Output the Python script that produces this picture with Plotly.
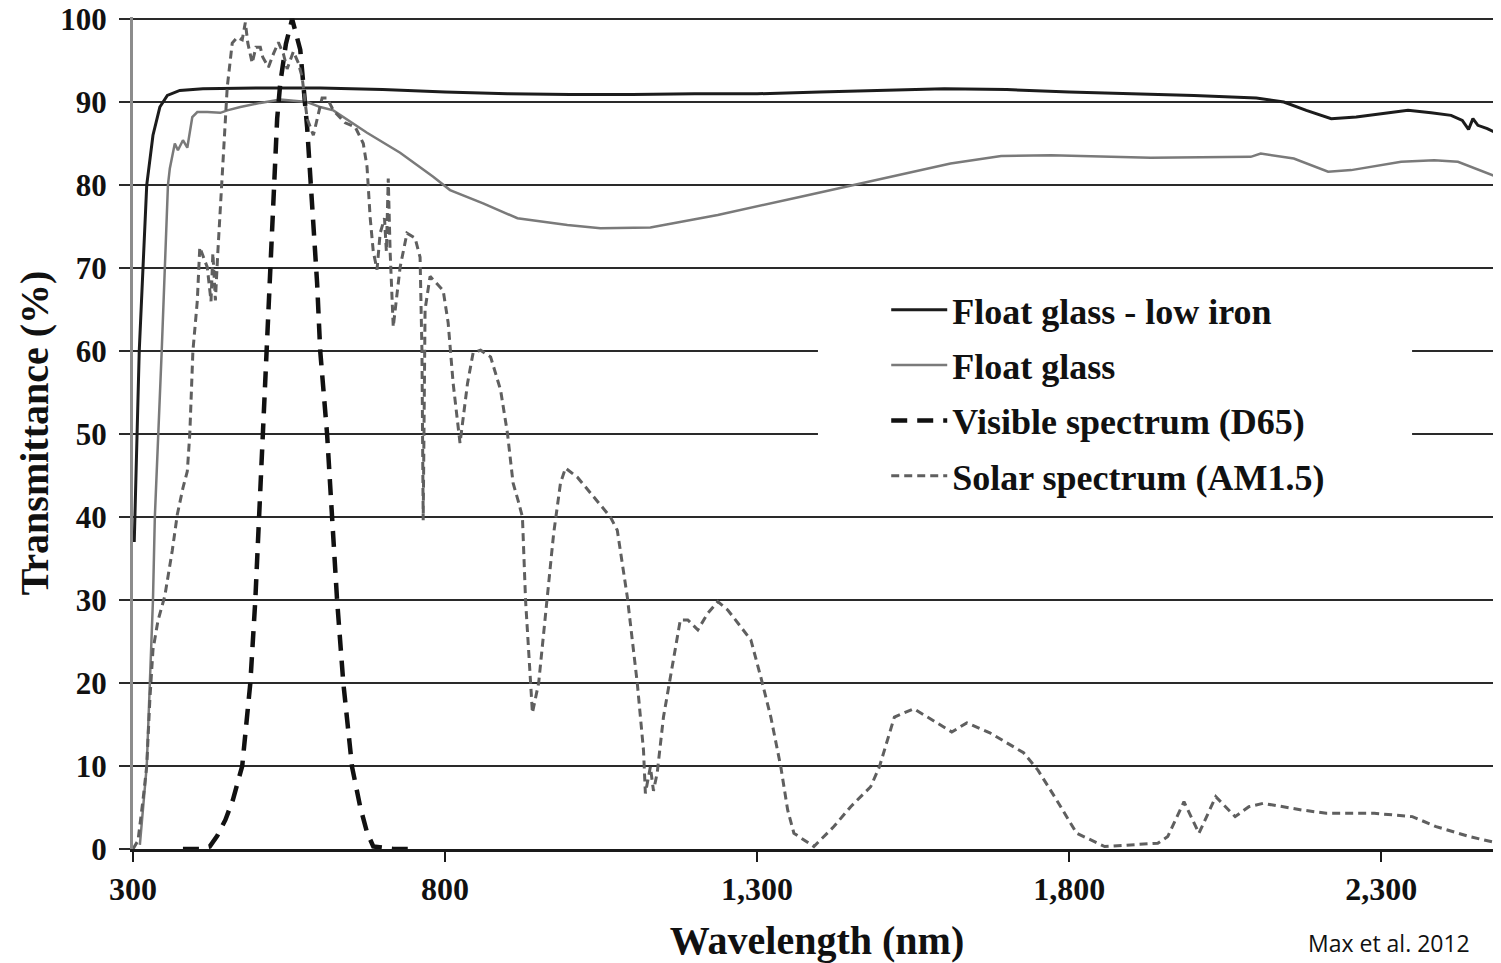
import plotly.graph_objects as go

# ---------------- data ----------------
LOW_IRON_NM = [302, 305, 310, 316, 322, 332, 343, 355, 375, 412, 500, 600, 700, 800, 900,
               1000, 1100, 1200, 1300, 1400, 1500, 1600, 1700, 1800, 1900, 2000, 2100, 2144,
               2180, 2220, 2260, 2300, 2343, 2380, 2412, 2430, 2440, 2447, 2455, 2470, 2492]
LOW_IRON_T = [37, 45, 60, 70, 80, 86, 89.4, 90.8, 91.4, 91.6, 91.7, 91.7, 91.5, 91.2, 91.0,
              90.9, 90.9, 91.0, 91.0, 91.2, 91.4, 91.6, 91.5, 91.2, 91.0, 90.8, 90.5, 90.0,
              89.0, 88.0, 88.2, 88.6, 89.0, 88.7, 88.4, 87.8, 86.7, 88.0, 87.2, 86.8, 86.0]

FLOAT_NM = [311, 322, 327, 332, 335, 341, 346, 351, 356, 359, 367, 372, 380, 387, 395, 403,
            419, 440, 451, 472, 504, 536, 579, 600, 621, 675, 728, 781, 808, 861, 916, 996,
            1049, 1129, 1237, 1370, 1482, 1610, 1691, 1771, 1931, 2091, 2107, 2160, 2215,
            2252, 2332, 2385, 2423, 2492]
FLOAT_T = [0.5, 10, 20, 30, 40, 50, 60, 70, 80, 82, 85, 84.2, 85.4, 84.5, 88.2, 88.8,
           88.8, 88.7, 89.0, 89.4, 89.9, 90.3, 90.0, 89.4, 89.0, 86.3, 83.9, 81.0, 79.4, 77.8,
           76.0, 75.2, 74.8, 74.9, 76.4, 78.6, 80.5, 82.6, 83.5, 83.6, 83.3, 83.4, 83.8, 83.2,
           81.6, 81.8, 82.8, 83.0, 82.8, 80.8]

D65_NM = [380, 407, 423, 435, 448, 460, 475, 488, 496, 502, 508, 515, 520, 525, 531, 536,
          545, 555, 568, 579, 587, 595, 600, 611, 619, 627, 637, 651, 664, 675, 685, 717, 749]
D65_T = [0, 0, 0.3, 1.6, 3.5, 5.9, 10, 20, 30, 40, 50, 60, 67, 77, 88, 92.3,
         97, 100, 96.3, 87, 78.2, 68.2, 60, 50, 40, 30, 20, 9.9, 5.1, 2, 0.3, 0, 0]

SOLAR_NM = [300, 308, 316, 322, 327, 332, 340, 351, 363, 371, 380, 387, 391, 396, 403, 407,
            419, 425, 428, 432, 436, 444, 451, 459, 467, 475, 480, 484, 491, 497, 504, 508,
            517, 525, 533, 541, 547, 557, 565, 571, 579, 589, 595, 603, 611, 621, 640, 656,
            669, 675, 680, 685, 691, 696, 703, 706, 709, 712, 717, 722, 728, 739, 752, 760,
            763, 765, 768, 776, 797, 805, 813, 824, 836, 845, 857, 873, 889, 900, 909, 917,
            924, 929, 937, 940, 950, 964, 974, 985, 993, 1012, 1033, 1065, 1076, 1092, 1108,
            1118, 1121, 1129, 1134, 1140, 1150, 1164, 1177, 1189, 1205, 1221, 1237, 1253,
            1274, 1290, 1306, 1322, 1338, 1349, 1359, 1391, 1423, 1450, 1482, 1496, 1520,
            1551, 1573, 1612, 1636, 1673, 1727, 1750, 1780, 1812, 1857, 1942, 1958, 1984,
            2008, 2035, 2066, 2088, 2111, 2173, 2212, 2289, 2350, 2388, 2441, 2488]
SOLAR_T = [0, 1, 5.9, 10, 18, 24, 27.5, 30.5, 36, 40.3, 43.5, 45.5, 50, 60, 66, 72.5,
           70.1, 66, 71.8, 66.1, 72, 82.2, 91.8, 97.1, 97.8, 97.5, 99.6, 97.1, 94.7, 96.6, 96.6, 95.4,
           94.2, 95.8, 97.2, 95.8, 94, 96.1, 94.7, 93, 88, 86, 88, 90.5, 90.5, 89, 87.5, 87,
           85, 82.2, 76.1, 72, 69.8, 74.2, 76, 72, 80.8, 72, 62.9, 66, 70.1, 74.2, 73.6, 71.3,
           60, 39.6, 65, 69, 67.3, 63.4, 56.1, 48.9, 56.1, 59.8, 60.1, 59.3, 55.3, 50.1, 44.1, 42,
           40, 30, 20, 16.4, 20, 30, 38, 44.1, 45.9, 44.8, 42.9, 40, 38.4, 30.4, 20,
           11.9, 6.7, 9.9, 7, 9.2, 15.9, 21.9, 27.6, 27.6, 26.4, 28.4, 29.8, 28.8,
           26.7, 25.2, 20.7, 15.9, 9.9, 4.7, 1.9, 0.3, 2.7, 5.1, 7.5, 9.9, 15.9,
           16.9, 15.9, 14.1, 15.2, 14.0, 11.6, 9.5, 5.9, 1.9, 0.3, 0.7, 1.5, 5.7,
           1.9, 6.3, 3.9, 5.1, 5.5, 4.7, 4.3, 4.3, 3.9, 2.7, 1.5, 0.7]

SERIES_NAMES = ["Float glass - low iron", "Float glass",
                "Visible spectrum (D65)", "Solar spectrum (AM1.5)"]

X_TICKVALS = [300, 800, 1300, 1800, 2300]
X_TICKTEXT = ["300", "800", "1,300", "1,800", "2,300"]
Y_TICKVALS = [0, 10, 20, 30, 40, 50, 60, 70, 80, 90, 100]

X_TITLE = "Wavelength (nm)"
Y_TITLE = "Transmittance (%)"
SOURCE = "Max et al. 2012"

# ---------------- figure ----------------
SERIF = "Liberation Serif, Times New Roman, serif"

fig = go.Figure()

fig.add_trace(go.Scatter(x=LOW_IRON_NM, y=LOW_IRON_T, mode="lines", name=SERIES_NAMES[0],
                         legendgroup="a", line=dict(color="#1c1c1c", width=3)))
fig.add_trace(go.Scatter(x=FLOAT_NM, y=FLOAT_T, mode="lines", name=SERIES_NAMES[1],
                         legendgroup="b", line=dict(color="#7a7a7a", width=2.5)))
fig.add_trace(go.Scatter(x=D65_NM, y=D65_T, mode="lines", name=SERIES_NAMES[2],
                         legendgroup="c", line=dict(color="#111111", width=4.5, dash="16px,10px")))
fig.add_trace(go.Scatter(x=SOLAR_NM, y=SOLAR_T, mode="lines", name=SERIES_NAMES[3],
                         legendgroup="d", line=dict(color="#5f5f5f", width=3, dash="8px,5px")))

# white box behind the legend (hides the gridlines there; no data lies in it)
fig.add_shape(type="rect", xref="paper", yref="paper",
              x0=0.5007, x1=0.935, y0=0.4145, y1=0.686,
              fillcolor="white", line=dict(width=0), layer="above")

fig.add_annotation(text=SOURCE, xref="paper", yref="paper", x=0.918, y=-0.113,
                   xanchor="center", yanchor="middle", showarrow=False,
                   font=dict(family="Open Sans, Noto Sans, sans-serif", size=23, color="#111"))

fig.update_layout(
    width=1493, height=955,
    margin=dict(l=125, r=0, t=9, b=114),
    paper_bgcolor="white", plot_bgcolor="white",
    font=dict(family=SERIF, color="#111", size=31),
    showlegend=True,
    legend=dict(x=0.5506, y=0.684, xanchor="left", yanchor="top",
                bgcolor="rgba(0,0,0,0)", traceorder="grouped", tracegroupgap=5.5,
                itemwidth=56,
                font=dict(family=SERIF, size=36, color="#111", weight="bold")),
)

fig.update_xaxes(range=[300, 2492], tickmode="array", tickvals=X_TICKVALS, ticktext=X_TICKTEXT,
                 showgrid=False, zeroline=False, showline=True, linecolor="#1a1a1a", linewidth=3,
                 ticks="outside", ticklen=10, tickwidth=2, tickcolor="#1a1a1a",
                 tickfont=dict(family=SERIF, size=32, weight="bold"),
                 ticklabeloverflow="allow",
                 title=dict(text=X_TITLE, standoff=22,
                            font=dict(family=SERIF, size=40, weight="bold")),
                 automargin=False)

fig.update_yaxes(range=[0, 100.25], tickmode="array", tickvals=Y_TICKVALS,
                 showgrid=True, gridcolor="#2a2a2a", gridwidth=2, zeroline=False,
                 showline=True, linecolor="#8c8c8c", linewidth=3,
                 ticks="outside", ticklen=11, tickwidth=2, tickcolor="#2a2a2a",
                 tickfont=dict(family=SERIF, size=31, weight="bold"),
                 ticklabeloverflow="allow", ticklabelstandoff=6,
                 title=dict(text=Y_TITLE, standoff=0,
                            font=dict(family=SERIF, size=40, weight="bold")),
                 automargin=False)

fig.write_html("out.html")
